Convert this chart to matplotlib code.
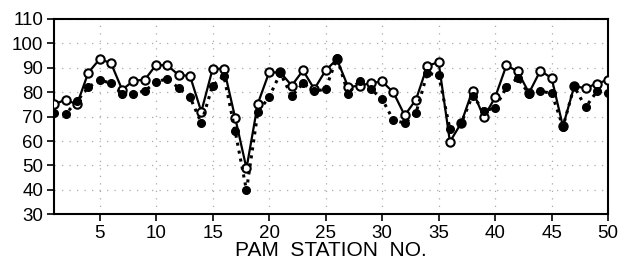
import numpy as np
from matplotlib import pyplot as plt

plt.rcParams['font.family'] = ['Liberation Sans', 'DejaVu Sans']

station = np.arange(1, 51)

# open circles, solid line
open_vals = [75, 77, 75, 88, 93.5, 92, 81, 84.7, 85.1, 91.2,
             91, 87, 86.7, 72, 89.5, 89.7, 69.5, 48.8, 75.3, 88.1,
             88.1, 82.7, 88.9, 81.3, 88.9, 93.5, 82.1, 82.7, 83.7, 84.4,
             79.9, 70.5, 77, 90.8, 92.3, 59.7, 67.4, 80.7, 69.7, 77.9,
             91, 88.5, 79.7, 88.8, 85.8, 66, 82.4, 81.7, 83.5, 85.1]

# filled circles, dotted line
filled_vals = [71.4, 71.1, 76.3, 82, 85, 83.7, 79.3, 79.3, 80.6, 84.1,
               85.6, 81.7, 78, 67.4, 82.7, 86.7, 64, 39.8, 71.8, 78,
               87.8, 78.3, 83.7, 80.3, 81.3, 94, 79.4, 84.7, 81.3, 77.2,
               68.5, 67.4, 71.5, 87.8, 87, 65, 67.2, 78.6, 72.4, 73.5,
               82.1, 85.8, 79.3, 80.3, 79.7, 65.8, 82.4, 73.8, 80.3, 79.7]

xticks = list(range(5, 51, 5))
yticks = list(range(30, 111, 10))

fig = plt.figure(figsize=(6.25, 2.63), dpi=100)
ax = fig.add_axes((0.087, 0.185, 0.886, 0.743))

ax.plot(station, open_vals, '-', color='black', lw=1.6, marker='o',
        ms=6, mfc='white', mec='black', mew=1.5, zorder=3)
ax.plot(station, filled_vals, ':', color='black', lw=2.2, marker='o',
        ms=5.5, mfc='black', mec='black', zorder=4)

ax.set_xlim(1, 50)
ax.set_ylim(30, 110)
ax.set_xticks(xticks)
ax.set_yticks(yticks)
ax.tick_params(direction='out', length=5, width=1.2, labelsize=13.5, pad=3,
               colors='black')
for s in ax.spines.values():
    s.set_linewidth(1.5)
ax.grid(True, linestyle=(0, (1, 5)), color='#aaaaaa', lw=0.9)
ax.set_axisbelow(True)

ax.set_xlabel('PAM  STATION  NO.', fontsize=15, labelpad=-1)

plt.savefig('out.png')
